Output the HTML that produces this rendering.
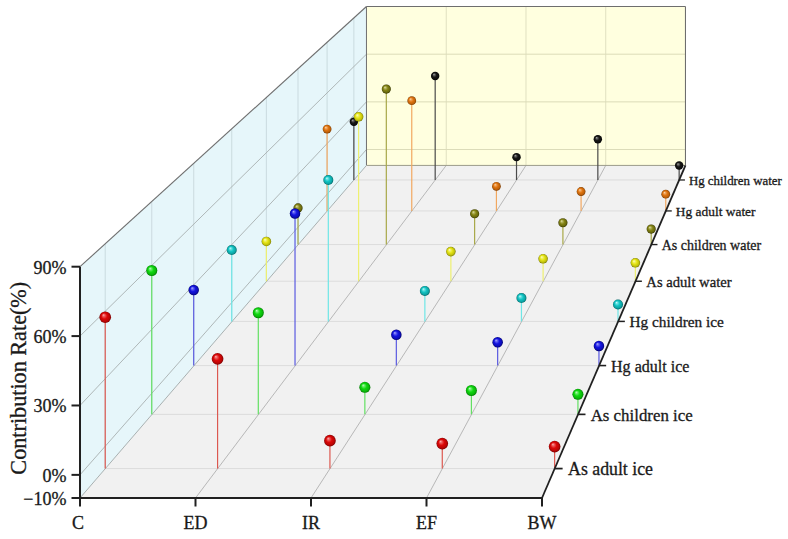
<!DOCTYPE html>
<html><head><meta charset="utf-8"><style>
html,body{margin:0;padding:0;background:#fff;width:788px;height:539px;overflow:hidden}
svg{display:block}
text{font-family:"Liberation Serif",serif;fill:#1a1a1a;stroke:#1a1a1a;stroke-width:0.3px}
</style></head><body>
<svg width="788" height="539" viewBox="0 0 788 539">
<defs>
<radialGradient id="g0" cx="0.5" cy="0.5" r="0.5" fx="0.34" fy="0.3"><stop offset="0" stop-color="#ffb4b4"/><stop offset="0.2" stop-color="#ee5e5e" stop-opacity="1"/><stop offset="0.5" stop-color="#dc0808"/><stop offset="0.82" stop-color="#ba0505"/><stop offset="1" stop-color="#7a0000"/></radialGradient>
<radialGradient id="g1" cx="0.5" cy="0.5" r="0.5" fx="0.34" fy="0.3"><stop offset="0" stop-color="#c8ffc8"/><stop offset="0.2" stop-color="#6cec6c" stop-opacity="1"/><stop offset="0.5" stop-color="#10d810"/><stop offset="0.82" stop-color="#0ab70a"/><stop offset="1" stop-color="#007a00"/></radialGradient>
<radialGradient id="g2" cx="0.5" cy="0.5" r="0.5" fx="0.34" fy="0.3"><stop offset="0" stop-color="#b4b4ff"/><stop offset="0.2" stop-color="#6464f0" stop-opacity="1"/><stop offset="0.5" stop-color="#1414e0"/><stop offset="0.82" stop-color="#0d0db7"/><stop offset="1" stop-color="#00006a"/></radialGradient>
<radialGradient id="g3" cx="0.5" cy="0.5" r="0.5" fx="0.34" fy="0.3"><stop offset="0" stop-color="#c8ffff"/><stop offset="0.2" stop-color="#6de2e2" stop-opacity="1"/><stop offset="0.5" stop-color="#12c4c4"/><stop offset="0.82" stop-color="#0ca2a2"/><stop offset="1" stop-color="#006464"/></radialGradient>
<radialGradient id="g4" cx="0.5" cy="0.5" r="0.5" fx="0.34" fy="0.3"><stop offset="0" stop-color="#ffffd0"/><stop offset="0.2" stop-color="#f2f272" stop-opacity="1"/><stop offset="0.5" stop-color="#e4e414"/><stop offset="0.82" stop-color="#bfbf0d"/><stop offset="1" stop-color="#7a7a00"/></radialGradient>
<radialGradient id="g5" cx="0.5" cy="0.5" r="0.5" fx="0.34" fy="0.3"><stop offset="0" stop-color="#e8e8b0"/><stop offset="0.2" stop-color="#b6b662" stop-opacity="1"/><stop offset="0.5" stop-color="#848414"/><stop offset="0.82" stop-color="#69690d"/><stop offset="1" stop-color="#363600"/></radialGradient>
<radialGradient id="g6" cx="0.5" cy="0.5" r="0.5" fx="0.34" fy="0.3"><stop offset="0" stop-color="#ffdcb0"/><stop offset="0.2" stop-color="#f0a860" stop-opacity="1"/><stop offset="0.5" stop-color="#e07410"/><stop offset="0.82" stop-color="#bc600a"/><stop offset="1" stop-color="#7a3a00"/></radialGradient>
<radialGradient id="g7" cx="0.5" cy="0.5" r="0.5" fx="0.34" fy="0.3"><stop offset="0" stop-color="#b0b0b0"/><stop offset="0.2" stop-color="#636363" stop-opacity="1"/><stop offset="0.5" stop-color="#161616"/><stop offset="0.82" stop-color="#0e0e0e"/><stop offset="1" stop-color="#000000"/></radialGradient>
</defs>
<polygon points="80.00,498.00 542.00,498.00 685.48,165.42 366.46,165.42" fill="#f1f1f1"/>
<polygon points="80.00,498.00 80.00,266.70 366.46,6.52 366.46,165.42" fill="#e6f6fa"/>
<polygon points="366.46,165.42 366.46,6.52 685.48,6.52 685.48,165.42" fill="#ffffdf"/>
<line x1="105.22" y1="468.58" x2="554.63" y2="468.58" stroke="#dcdcdc" stroke-width="1"/>
<line x1="151.75" y1="414.37" x2="577.94" y2="414.37" stroke="#dcdcdc" stroke-width="1"/>
<line x1="193.71" y1="365.57" x2="598.96" y2="365.57" stroke="#dcdcdc" stroke-width="1"/>
<line x1="231.74" y1="321.40" x2="618.00" y2="321.40" stroke="#dcdcdc" stroke-width="1"/>
<line x1="266.37" y1="281.24" x2="635.35" y2="281.24" stroke="#dcdcdc" stroke-width="1"/>
<line x1="298.03" y1="244.56" x2="651.20" y2="244.56" stroke="#dcdcdc" stroke-width="1"/>
<line x1="327.09" y1="210.93" x2="665.76" y2="210.93" stroke="#dcdcdc" stroke-width="1"/>
<line x1="353.86" y1="179.98" x2="679.16" y2="179.98" stroke="#dcdcdc" stroke-width="1"/>
<line x1="195.50" y1="498.00" x2="446.22" y2="165.42" stroke="#a8a8a8" stroke-width="0.8"/>
<line x1="311.00" y1="498.00" x2="525.97" y2="165.42" stroke="#a8a8a8" stroke-width="0.8"/>
<line x1="426.50" y1="498.00" x2="605.72" y2="165.42" stroke="#a8a8a8" stroke-width="0.8"/>
<line x1="105.22" y1="468.58" x2="105.22" y2="243.68" stroke="#c4d4d8" stroke-width="0.8"/>
<line x1="151.75" y1="414.37" x2="151.75" y2="201.28" stroke="#c4d4d8" stroke-width="0.8"/>
<line x1="193.71" y1="365.57" x2="193.71" y2="163.10" stroke="#c4d4d8" stroke-width="0.8"/>
<line x1="231.74" y1="321.40" x2="231.74" y2="128.55" stroke="#c4d4d8" stroke-width="0.8"/>
<line x1="266.37" y1="281.24" x2="266.37" y2="97.13" stroke="#c4d4d8" stroke-width="0.8"/>
<line x1="298.03" y1="244.56" x2="298.03" y2="68.43" stroke="#c4d4d8" stroke-width="0.8"/>
<line x1="327.09" y1="210.93" x2="327.09" y2="42.12" stroke="#c4d4d8" stroke-width="0.8"/>
<line x1="353.86" y1="179.98" x2="353.86" y2="17.91" stroke="#c4d4d8" stroke-width="0.8"/>
<line x1="80.00" y1="474.87" x2="366.46" y2="149.53" stroke="#a8b0b0" stroke-width="0.9"/>
<line x1="80.00" y1="405.48" x2="366.46" y2="101.86" stroke="#a8b0b0" stroke-width="0.9"/>
<line x1="80.00" y1="336.09" x2="366.46" y2="54.19" stroke="#a8b0b0" stroke-width="0.9"/>
<line x1="446.22" y1="165.42" x2="446.22" y2="6.52" stroke="#e0e0c0" stroke-width="1"/>
<line x1="525.97" y1="165.42" x2="525.97" y2="6.52" stroke="#e0e0c0" stroke-width="1"/>
<line x1="605.72" y1="165.42" x2="605.72" y2="6.52" stroke="#e0e0c0" stroke-width="1"/>
<line x1="366.46" y1="149.53" x2="685.48" y2="149.53" stroke="#dcdcb8" stroke-width="1"/>
<line x1="366.46" y1="101.86" x2="685.48" y2="101.86" stroke="#dcdcb8" stroke-width="1"/>
<line x1="366.46" y1="54.19" x2="685.48" y2="54.19" stroke="#dcdcb8" stroke-width="1"/>
<line x1="80.00" y1="266.70" x2="366.46" y2="6.52" stroke="#6e6e6e" stroke-width="1.1"/>
<line x1="366.46" y1="6.52" x2="685.48" y2="6.52" stroke="#6e6e6e" stroke-width="1.1"/>
<line x1="685.48" y1="6.52" x2="685.48" y2="165.42" stroke="#6e6e6e" stroke-width="1.1"/>
<line x1="366.46" y1="6.52" x2="366.46" y2="165.42" stroke="#6e6e6e" stroke-width="1.0"/>
<line x1="366.46" y1="165.42" x2="685.48" y2="165.42" stroke="#9a9a8a" stroke-width="1.0"/>
<line x1="80.00" y1="498.00" x2="366.46" y2="165.42" stroke="#a0a8a8" stroke-width="0.9"/>
<line x1="353.86" y1="121.80" x2="353.86" y2="179.98" stroke="#4a4a4a" stroke-width="1.2"/>
<line x1="435.18" y1="75.94" x2="435.18" y2="179.98" stroke="#4a4a4a" stroke-width="1.2"/>
<line x1="516.51" y1="157.13" x2="516.51" y2="179.98" stroke="#4a4a4a" stroke-width="1.2"/>
<line x1="597.84" y1="139.30" x2="597.84" y2="179.98" stroke="#4a4a4a" stroke-width="1.2"/>
<line x1="679.16" y1="165.56" x2="679.16" y2="179.98" stroke="#4a4a4a" stroke-width="1.2"/>
<circle cx="353.86" cy="121.80" r="4.22" fill="url(#g7)"/>
<circle cx="435.18" cy="75.94" r="4.22" fill="url(#g7)"/>
<circle cx="516.51" cy="157.13" r="4.22" fill="url(#g7)"/>
<circle cx="597.84" cy="139.30" r="4.22" fill="url(#g7)"/>
<circle cx="679.16" cy="165.56" r="4.22" fill="url(#g7)"/>
<line x1="327.09" y1="129.06" x2="327.09" y2="210.93" stroke="#f2a860" stroke-width="1.2"/>
<line x1="411.76" y1="100.70" x2="411.76" y2="210.93" stroke="#f2a860" stroke-width="1.2"/>
<line x1="496.42" y1="186.28" x2="496.42" y2="210.93" stroke="#f2a860" stroke-width="1.2"/>
<line x1="581.09" y1="191.52" x2="581.09" y2="210.93" stroke="#f2a860" stroke-width="1.2"/>
<line x1="665.76" y1="194.22" x2="665.76" y2="210.93" stroke="#f2a860" stroke-width="1.2"/>
<circle cx="327.09" cy="129.06" r="4.40" fill="url(#g6)"/>
<circle cx="411.76" cy="100.70" r="4.40" fill="url(#g6)"/>
<circle cx="496.42" cy="186.28" r="4.40" fill="url(#g6)"/>
<circle cx="581.09" cy="191.52" r="4.40" fill="url(#g6)"/>
<circle cx="665.76" cy="194.22" r="4.40" fill="url(#g6)"/>
<line x1="298.03" y1="207.93" x2="298.03" y2="244.56" stroke="#a8a848" stroke-width="1.2"/>
<line x1="386.32" y1="89.04" x2="386.32" y2="244.56" stroke="#a8a848" stroke-width="1.2"/>
<line x1="474.62" y1="213.74" x2="474.62" y2="244.56" stroke="#a8a848" stroke-width="1.2"/>
<line x1="562.91" y1="222.72" x2="562.91" y2="244.56" stroke="#a8a848" stroke-width="1.2"/>
<line x1="651.20" y1="229.06" x2="651.20" y2="244.56" stroke="#a8a848" stroke-width="1.2"/>
<circle cx="298.03" cy="207.93" r="4.59" fill="url(#g5)"/>
<circle cx="386.32" cy="89.04" r="4.59" fill="url(#g5)"/>
<circle cx="474.62" cy="213.74" r="4.59" fill="url(#g5)"/>
<circle cx="562.91" cy="222.72" r="4.59" fill="url(#g5)"/>
<circle cx="651.20" cy="229.06" r="4.59" fill="url(#g5)"/>
<line x1="266.37" y1="241.47" x2="266.37" y2="281.24" stroke="#eef070" stroke-width="1.2"/>
<line x1="358.61" y1="116.83" x2="358.61" y2="281.24" stroke="#eef070" stroke-width="1.2"/>
<line x1="450.86" y1="251.60" x2="450.86" y2="281.24" stroke="#eef070" stroke-width="1.2"/>
<line x1="543.10" y1="258.78" x2="543.10" y2="281.24" stroke="#eef070" stroke-width="1.2"/>
<line x1="635.35" y1="262.83" x2="635.35" y2="281.24" stroke="#eef070" stroke-width="1.2"/>
<circle cx="266.37" cy="241.47" r="4.79" fill="url(#g4)"/>
<circle cx="358.61" cy="116.83" r="4.79" fill="url(#g4)"/>
<circle cx="450.86" cy="251.60" r="4.79" fill="url(#g4)"/>
<circle cx="543.10" cy="258.78" r="4.79" fill="url(#g4)"/>
<circle cx="635.35" cy="262.83" r="4.79" fill="url(#g4)"/>
<line x1="231.74" y1="250.05" x2="231.74" y2="321.40" stroke="#6ee6e6" stroke-width="1.2"/>
<line x1="328.31" y1="180.04" x2="328.31" y2="321.40" stroke="#6ee6e6" stroke-width="1.2"/>
<line x1="424.87" y1="290.93" x2="424.87" y2="321.40" stroke="#6ee6e6" stroke-width="1.2"/>
<line x1="521.44" y1="298.07" x2="521.44" y2="321.40" stroke="#6ee6e6" stroke-width="1.2"/>
<line x1="618.00" y1="304.43" x2="618.00" y2="321.40" stroke="#6ee6e6" stroke-width="1.2"/>
<circle cx="231.74" cy="250.05" r="5.02" fill="url(#g3)"/>
<circle cx="328.31" cy="180.04" r="5.02" fill="url(#g3)"/>
<circle cx="424.87" cy="290.93" r="5.02" fill="url(#g3)"/>
<circle cx="521.44" cy="298.07" r="5.02" fill="url(#g3)"/>
<circle cx="618.00" cy="304.43" r="5.02" fill="url(#g3)"/>
<line x1="193.71" y1="290.05" x2="193.71" y2="365.57" stroke="#5a5ae0" stroke-width="1.2"/>
<line x1="295.02" y1="213.51" x2="295.02" y2="365.57" stroke="#5a5ae0" stroke-width="1.2"/>
<line x1="396.34" y1="334.79" x2="396.34" y2="365.57" stroke="#5a5ae0" stroke-width="1.2"/>
<line x1="497.65" y1="342.29" x2="497.65" y2="365.57" stroke="#5a5ae0" stroke-width="1.2"/>
<line x1="598.96" y1="345.93" x2="598.96" y2="365.57" stroke="#5a5ae0" stroke-width="1.2"/>
<circle cx="193.71" cy="290.05" r="5.26" fill="url(#g2)"/>
<circle cx="295.02" cy="213.51" r="5.26" fill="url(#g2)"/>
<circle cx="396.34" cy="334.79" r="5.26" fill="url(#g2)"/>
<circle cx="497.65" cy="342.29" r="5.26" fill="url(#g2)"/>
<circle cx="598.96" cy="345.93" r="5.26" fill="url(#g2)"/>
<line x1="151.75" y1="270.53" x2="151.75" y2="414.37" stroke="#62e062" stroke-width="1.2"/>
<line x1="258.30" y1="312.73" x2="258.30" y2="414.37" stroke="#62e062" stroke-width="1.2"/>
<line x1="364.85" y1="387.31" x2="364.85" y2="414.37" stroke="#62e062" stroke-width="1.2"/>
<line x1="471.39" y1="390.51" x2="471.39" y2="414.37" stroke="#62e062" stroke-width="1.2"/>
<line x1="577.94" y1="394.34" x2="577.94" y2="414.37" stroke="#62e062" stroke-width="1.2"/>
<circle cx="151.75" cy="270.53" r="5.53" fill="url(#g1)"/>
<circle cx="258.30" cy="312.73" r="5.53" fill="url(#g1)"/>
<circle cx="364.85" cy="387.31" r="5.53" fill="url(#g1)"/>
<circle cx="471.39" cy="390.51" r="5.53" fill="url(#g1)"/>
<circle cx="577.94" cy="394.34" r="5.53" fill="url(#g1)"/>
<line x1="105.22" y1="317.23" x2="105.22" y2="468.58" stroke="#dc5850" stroke-width="1.2"/>
<line x1="217.57" y1="358.83" x2="217.57" y2="468.58" stroke="#dc5850" stroke-width="1.2"/>
<line x1="329.93" y1="440.69" x2="329.93" y2="468.58" stroke="#dc5850" stroke-width="1.2"/>
<line x1="442.28" y1="443.62" x2="442.28" y2="468.58" stroke="#dc5850" stroke-width="1.2"/>
<line x1="554.63" y1="446.54" x2="554.63" y2="468.58" stroke="#dc5850" stroke-width="1.2"/>
<circle cx="105.22" cy="317.23" r="5.84" fill="url(#g0)"/>
<circle cx="217.57" cy="358.83" r="5.84" fill="url(#g0)"/>
<circle cx="329.93" cy="440.69" r="5.84" fill="url(#g0)"/>
<circle cx="442.28" cy="443.62" r="5.84" fill="url(#g0)"/>
<circle cx="554.63" cy="446.54" r="5.84" fill="url(#g0)"/>
<line x1="80.00" y1="266.70" x2="80.00" y2="498.00" stroke="#202020" stroke-width="2"/>
<line x1="79.00" y1="498.00" x2="542.00" y2="498.00" stroke="#202020" stroke-width="2"/>
<line x1="542.00" y1="498.00" x2="685.48" y2="165.42" stroke="#202020" stroke-width="1.8"/>
<line x1="71.50" y1="266.70" x2="80.00" y2="266.70" stroke="#202020" stroke-width="2"/>
<text x="66.40" y="273.70" font-size="18" text-anchor="end">90%</text>
<line x1="71.50" y1="336.09" x2="80.00" y2="336.09" stroke="#202020" stroke-width="2"/>
<text x="66.40" y="343.09" font-size="18" text-anchor="end">60%</text>
<line x1="71.50" y1="405.48" x2="80.00" y2="405.48" stroke="#202020" stroke-width="2"/>
<text x="66.40" y="412.48" font-size="18" text-anchor="end">30%</text>
<line x1="71.50" y1="474.87" x2="80.00" y2="474.87" stroke="#202020" stroke-width="2"/>
<text x="66.40" y="481.87" font-size="18" text-anchor="end">0%</text>
<line x1="71.50" y1="498.00" x2="80.00" y2="498.00" stroke="#202020" stroke-width="2"/>
<text x="66.40" y="505.00" font-size="18" text-anchor="end">−10%</text>
<line x1="80.00" y1="498.00" x2="80.00" y2="506.50" stroke="#202020" stroke-width="2"/>
<text x="78.00" y="528.60" font-size="18" text-anchor="middle">C</text>
<line x1="195.50" y1="498.00" x2="195.50" y2="506.50" stroke="#202020" stroke-width="2"/>
<text x="195.50" y="528.60" font-size="18" text-anchor="middle">ED</text>
<line x1="311.00" y1="498.00" x2="311.00" y2="506.50" stroke="#202020" stroke-width="2"/>
<text x="311.00" y="528.60" font-size="18" text-anchor="middle">IR</text>
<line x1="426.50" y1="498.00" x2="426.50" y2="506.50" stroke="#202020" stroke-width="2"/>
<text x="426.50" y="528.60" font-size="18" text-anchor="middle">EF</text>
<line x1="542.00" y1="498.00" x2="542.00" y2="506.50" stroke="#202020" stroke-width="2"/>
<text x="542.00" y="528.60" font-size="18" text-anchor="middle">BW</text>
<line x1="554.63" y1="468.58" x2="562.61" y2="468.58" stroke="#202020" stroke-width="1.750951471893581"/>
<text x="568.06" y="475.17" font-size="17.80">As adult ice</text>
<line x1="577.94" y1="414.37" x2="585.50" y2="414.37" stroke="#202020" stroke-width="1.6604591630824581"/>
<text x="590.67" y="420.62" font-size="16.88">As children ice</text>
<line x1="598.96" y1="365.57" x2="606.15" y2="365.57" stroke="#202020" stroke-width="1.578860808069733"/>
<text x="611.06" y="371.51" font-size="16.05">Hg adult ice</text>
<line x1="618.00" y1="321.40" x2="624.86" y2="321.40" stroke="#202020" stroke-width="1.5049066226342136"/>
<text x="629.54" y="327.06" font-size="15.30">Hg children ice</text>
<line x1="635.35" y1="281.24" x2="641.89" y2="281.24" stroke="#202020" stroke-width="1.4375705058451218"/>
<text x="646.37" y="286.65" font-size="14.62">As adult water</text>
<line x1="651.20" y1="244.56" x2="657.47" y2="244.56" stroke="#202020" stroke-width="1.376002140447774"/>
<text x="661.75" y="249.74" font-size="13.99">As children water</text>
<line x1="665.76" y1="210.93" x2="671.77" y2="210.93" stroke="#202020" stroke-width="1.3194908964291279"/>
<text x="675.87" y="215.89" font-size="13.41">Hg adult water</text>
<line x1="679.16" y1="179.98" x2="684.94" y2="179.98" stroke="#202020" stroke-width="1.2674382783963385"/>
<text x="688.88" y="184.75" font-size="12.89">Hg children water</text>
<text transform="translate(25.7,378.2) rotate(-90)" font-size="22.2" text-anchor="middle">Contribution Rate(%)</text>
</svg>
</body></html>
